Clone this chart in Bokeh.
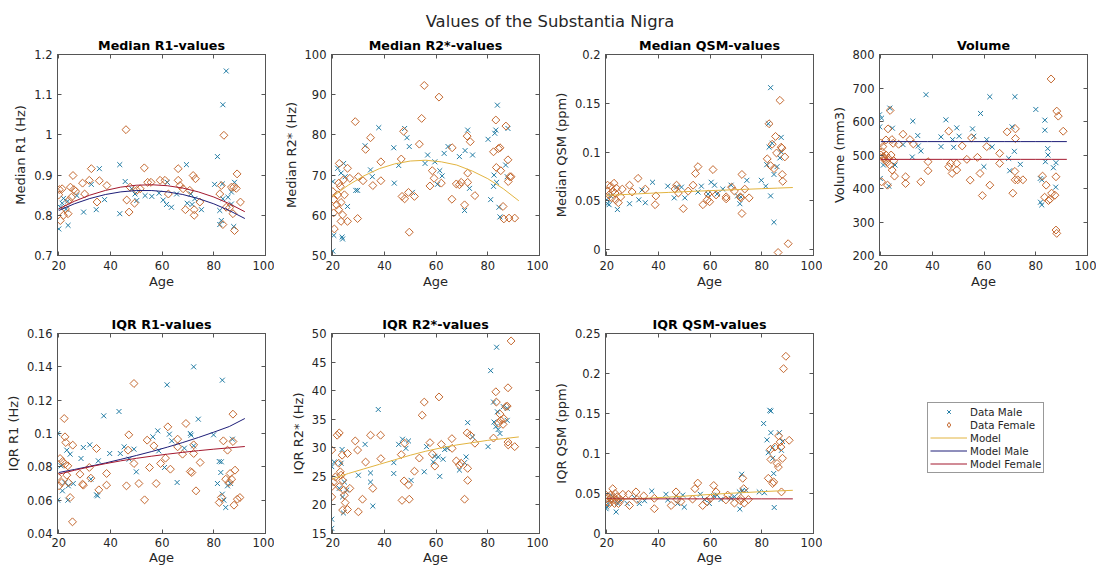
import math
from bokeh.plotting import figure
from bokeh.models import Range1d, FixedTicker, LinearAxis, Legend, LegendItem
from bokeh.layouts import column, row
from bokeh.embed import file_html
from bokeh.resources import INLINE
from bokeh.core.properties import value

# ---------------- data ----------------
suptitle = "Values of the Substantia Nigra"
x_ticks = [20, 40, 60, 80, 100]
x_tick_labels = ["20", "40", "60", "80", "100"]

# Median R1
r1_med_m_age = [20.0,23.6,20.6,21.3,22.8,23.4,21.8,27.0,29.6,32.6,34.5,35.7,37.7,43.6,43.6,45.7,48.2,49.5,50.2,53.4,56.0,58.8,60.4,61.7,62.0,63.6,65.6,69.4,69.7,71.1,71.6,72.6,75.2,80.3,81.4,82.3,82.9,83.3,83.5,84.8,82.3,85.5,86.8,87.7,88.0,83.5,86.8]
r1_med_m = [0.766,0.775,0.820,0.830,0.815,0.835,0.842,0.849,0.808,0.877,0.814,0.916,0.839,0.926,0.804,0.884,0.866,0.853,0.837,0.849,0.847,0.855,0.838,0.827,0.882,0.820,0.853,0.926,0.830,0.853,0.827,0.841,0.814,0.877,0.946,0.777,0.787,0.878,1.075,1.159,0.812,0.845,0.858,0.772,0.882,0.841,0.828]
r1_med_f_age = [20.0,20.2,21.3,20.6,21.8,22.6,23.6,23.9,24.5,24.9,25.5,25.8,26.5,29.2,30.0,32.6,31.8,34.8,35.7,38.6,46.0,46.3,47.2,47.6,49.3,50.2,51.5,53.1,54.4,55.7,59.2,61.1,62.4,66.2,66.2,66.9,68.1,69.0,70.7,72.0,72.9,72.4,72.4,74.6,82.3,82.9,83.5,83.9,84.8,86.1,86.8,87.7,88.0,88.7,89.0,90.3,87.4]
r1_med_f = [0.851,0.864,0.866,0.787,0.800,0.816,0.804,0.837,0.870,0.845,0.899,0.864,0.860,0.880,0.853,0.916,0.887,0.833,0.886,0.874,1.013,0.838,0.808,0.870,0.830,0.862,0.866,0.918,0.882,0.882,0.887,0.887,0.853,0.916,0.887,0.874,0.866,0.814,0.862,0.899,0.891,0.814,0.800,0.833,0.853,0.874,0.777,0.999,0.820,0.819,0.870,0.870,0.762,0.867,0.903,0.833,0.804]

# Median R2*
r2_med_m_age = [20.0,20.0,20.4,21.9,23.2,23.6,23.8,24.2,24.8,25.7,28.9,29.6,32.5,34.6,35.3,37.8,43.6,43.8,45.5,47.8,48.7,49.6,50.8,55.7,56.7,59.5,60.5,61.4,62.3,63.1,64.6,69.0,71.0,71.2,72.2,72.9,74.1,80.1,81.1,82.2,82.4,82.7,83.1,83.4,83.7,84.3,84.7,86.9,87.8,87.5]
r2_med_m = [51.1,68.4,55.0,71.7,70.5,54.6,54.1,72.9,69.6,62.2,66.2,66.2,77.3,71.3,69.6,81.8,76.8,68.0,72.4,81.6,79.3,77.1,65.7,72.9,75.0,73.3,67.7,71.1,69.8,75.4,77.1,74.6,61.2,76.1,81.2,66.7,75.0,78.9,63.9,67.2,70.0,80.4,81.2,68.2,87.4,62.0,59.6,72.5,81.6,69.6]
r2_med_f_age = [20.0,20.3,20.3,20.6,21.9,21.5,22.3,22.5,22.3,22.9,23.2,23.2,23.8,24.1,24.5,25.7,25.7,26.6,28.7,29.6,29.9,31.7,32.7,34.6,35.5,38.6,38.6,46.5,46.8,47.8,47.4,49.3,49.6,51.6,53.5,54.4,55.4,57.6,58.5,59.2,61.1,62.0,66.1,66.2,67.8,69.0,69.7,71.0,72.0,72.2,72.2,73.2,75.0,82.2,83.1,83.3,84.1,84.7,85.0,85.9,86.2,87.0,87.8,87.9,88.2,88.5,89.0,90.4]
r2_med_f = [65.9,63.9,60.6,56.6,65.1,62.6,68.0,72.9,61.4,67.2,63.2,58.5,60.1,68.8,65.1,71.7,58.5,69.2,83.3,59.2,69.6,68.6,76.4,79.3,67.4,73.3,68.6,74.0,64.7,64.1,80.9,65.7,55.8,64.7,77.7,84.1,92.3,67.3,71.1,69.2,89.4,68.0,64.0,76.8,67.8,67.6,68.2,62.6,79.7,70.5,68.2,78.3,64.9,75.8,83.7,71.9,76.6,76.8,71.1,62.2,59.1,82.2,73.8,68.4,59.3,69.6,69.6,59.3]

# Median QSM
qsm_med_m_age = [20.0,20.3,20.9,21.5,24.1,28.8,32.4,33.6,34.9,37.7,43.6,46.1,47.0,48.9,50.2,55.3,56.6,59.2,60.4,61.7,62.7,64.9,68.1,70.6,71.5,71.9,74.2,79.8,81.5,81.9,82.5,82.8,83.4,83.4,84.0,84.7,84.7,87.5,87.0,85.9,87.5]
qsm_med_m = [0.051,0.047,0.046,0.055,0.041,0.047,0.051,0.061,0.048,0.069,0.065,0.053,0.064,0.064,0.053,0.059,0.065,0.057,0.069,0.066,0.057,0.062,0.066,0.055,0.047,0.054,0.071,0.071,0.065,0.087,0.129,0.105,0.166,0.055,0.109,0.028,0.077,0.115,0.094,0.085,0.100]
qsm_med_f_age = [20.3,20.3,20.9,21.5,21.9,22.4,22.8,23.2,23.4,23.7,24.5,25.4,26.0,28.8,29.8,32.1,34.9,38.7,39.0,46.4,47.0,47.7,49.6,51.5,53.4,54.3,55.3,57.2,58.9,59.2,59.8,61.1,62.3,66.2,66.2,68.3,69.4,71.7,71.9,72.3,72.3,73.4,75.1,82.1,82.8,83.4,84.0,84.7,85.3,85.7,86.3,87.0,87.5,87.8,87.9,88.1,88.9,90.2]
qsm_med_f = [0.066,0.060,0.056,0.065,0.053,0.060,0.068,0.058,0.051,0.063,0.048,0.054,0.062,0.066,0.059,0.073,0.062,0.046,0.055,0.062,0.066,0.058,0.042,0.060,0.066,0.078,0.085,0.046,0.051,0.057,0.049,0.082,0.056,0.054,0.052,0.064,0.060,0.054,0.053,0.077,0.037,0.062,0.053,0.093,0.129,0.086,0.108,0.083,0.116,0.099,-0.003,0.153,0.105,0.104,0.077,0.070,0.095,0.006]

# Volume
vol_m_age = [19.5,20.3,19.6,19.8,21.0,23.5,24.5,23.1,25.5,28.6,32.4,32.2,34.3,34.5,35.5,37.5,43.3,43.3,45.2,47.8,48.2,49.4,50.3,55.5,56.0,58.6,59.9,61.0,62.2,63.1,69.5,69.9,70.8,71.7,71.9,74.0,80.0,81.7,82.3,81.8,82.3,83.5,83.5,83.7,84.6,84.7,86.8,87.8,87.7]
vol_m = [620,610,584,430,470,640,580,407,470,531,601,494,558,527,512,680,554,525,605,546,523,581,556,578,556,624,465,546,674,524,490,453,584,511,674,472,636,430,426,359,351,604,574,480,519,500,462,477,404]
vol_f_age = [19.9,20.5,21.0,20.3,21.5,22.0,22.5,22.8,23.6,22.6,23.5,24.3,24.4,25.3,25.0,20.0,20.8,21.3,22.0,23.0,24.0,24.8,26.9,28.6,29.6,29.6,31.3,32.6,35.5,38.3,38.3,46.3,46.3,47.6,47.0,49.4,49.4,51.5,53.3,54.6,55.1,57.4,58.4,59.3,61.0,62.2,66.0,66.0,68.9,71.1,72.1,72.1,71.9,72.0,73.0,75.0,82.6,83.4,84.0,84.9,85.5,85.9,86.1,87.4,87.8,88.1,88.7,87.8,88.1,90.6]
vol_f = [536,510,495,420,485,500,478,578,633,410,470,546,455,437,483,500,525,490,545,490,500,535,532,562,435,415,546,533,420,480,453,571,465,445,475,475,455,527,487,425,551,493,445,379,525,410,505,475,569,386,578,549,451,426,426,426,437,374,410,364,368,727,386,380,435,631,616,276,266,571]

# IQR R1
r1_iqr_m_age = [19.6,19.6,20.9,21.4,22.4,23.1,23.7,23.5,24.4,25.6,28.6,29.5,32.0,32.4,34.6,35.0,35.3,37.4,39.7,43.3,43.8,45.3,47.2,49.1,50.0,56.4,58.3,58.7,60.9,61.9,62.8,63.7,65.8,68.6,70.9,71.2,72.2,72.2,74.0,79.9,81.4,82.1,82.9,83.3,82.7,83.3,83.9,84.6,85.3,86.5,87.2]
r1_iqr_m = [0.060,0.100,0.0806,0.0656,0.0706,0.090,0.0686,0.060,0.0876,0.070,0.085,0.0916,0.0932,0.0726,0.0632,0.0626,0.0836,0.1106,0.088,0.1132,0.088,0.092,0.0846,0.0906,0.077,0.098,0.1016,0.0896,0.0796,0.1292,0.0996,0.0956,0.0706,0.0912,0.100,0.099,0.140,0.0926,0.1086,0.0992,0.070,0.0832,0.083,0.132,0.0766,0.0636,0.060,0.0556,0.0686,0.070,0.0966]
r1_iqr_f_age = [19.6,20.1,20.5,21.2,21.5,22.1,22.4,22.4,22.7,23.1,23.5,23.7,24.4,25.3,25.4,28.2,29.2,29.5,31.8,32.4,34.6,35.5,38.5,38.5,46.2,47.1,46.8,49.1,49.1,51.0,53.2,54.2,55.1,56.8,57.7,59.4,61.3,62.2,63.2,66.0,66.0,67.9,69.2,70.9,71.5,72.2,72.2,73.1,74.7,82.1,82.9,83.7,84.6,85.3,85.9,86.3,86.9,87.4,87.8,88.2,89.1,90.1,87.4]
r1_iqr_f = [0.074,0.0686,0.085,0.0706,0.0832,0.109,0.098,0.0816,0.0946,0.075,0.0806,0.0706,0.0616,0.047,0.093,0.0756,0.0696,0.069,0.0796,0.0732,0.091,0.0662,0.076,0.069,0.0686,0.0992,0.090,0.130,0.082,0.070,0.0602,0.096,0.0796,0.0926,0.070,0.082,0.0852,0.104,0.0786,0.0966,0.092,0.0876,0.106,0.0772,0.0766,0.0932,0.088,0.0656,0.0826,0.0586,0.0616,0.0956,0.0726,0.090,0.0706,0.076,0.0726,0.1116,0.057,0.078,0.0606,0.0616,0.0952]

# IQR R2*
r2_iqr_m_age = [19.6,19.6,19.6,20.6,22.5,23.2,23.6,23.8,24.1,24.5,25.4,29.9,32.5,34.6,34.6,35.5,37.6,43.6,43.6,45.5,47.0,48.3,49.3,50.3,55.4,56.3,58.9,59.5,60.8,61.4,62.7,63.3,64.3,69.0,71.0,71.6,72.2,74.1,80.1,81.1,82.2,82.4,83.1,83.4,83.7,84.0,84.7,86.0,87.5,87.5]
r2_iqr_m = [15.9,17.5,26.7,27.5,22.9,27.3,29.7,21.4,18.6,24.0,22.6,25.2,30.6,25.6,24.0,19.8,36.7,27.4,25.5,30.6,31.5,29.9,31.2,24.3,25.8,30.2,27.5,28.5,28.4,25.0,28.0,29.7,29.9,26.1,27.4,28.4,34.4,31.9,30.2,43.5,38.0,34.5,33.7,47.6,36.3,33.2,32.5,37.2,34.8,36.9]
r2_iqr_f_age = [19.6,19.6,19.6,20.3,21.0,21.7,22.3,22.5,22.5,22.9,23.2,23.6,23.8,23.8,24.2,24.5,24.8,25.7,25.7,26.6,28.7,29.6,29.9,31.5,32.7,34.6,35.5,38.5,38.6,46.5,46.8,47.6,47.8,49.3,49.6,51.6,53.5,54.6,55.4,57.6,58.5,59.5,61.1,62.0,66.1,66.2,67.8,69.0,69.7,71.0,72.0,72.2,72.2,73.2,75.0,82.2,83.1,83.3,84.1,84.7,85.0,85.9,86.2,87.0,87.5,87.8,87.8,87.9,89.0,90.4]
r2_iqr_f = [29.6,23.2,21.4,24.0,24.9,32.2,27.3,32.6,23.2,25.8,25.2,28.7,24.3,19.1,22.6,21.7,20.4,29.0,19.2,22.9,31.2,29.6,18.8,21.0,27.5,32.2,22.9,32.2,28.1,28.8,20.8,24.2,30.8,23.5,21.0,25.9,28.2,35.7,38.0,30.9,28.9,26.8,38.9,30.6,31.6,29.9,27.7,27.0,27.3,21.0,32.6,26.4,24.3,32.2,30.8,31.7,39.8,38.0,34.3,35.9,34.8,34.1,35.1,37.2,37.3,40.5,31.0,30.5,48.7,30.2]

# IQR QSM
qsm_iqr_m_age = [19.7,20.0,20.4,21.0,22.3,23.6,24.3,25.5,27.9,30.7,32.6,34.6,37.4,42.9,43.6,46.8,47.4,49.4,50.0,56.2,57.8,59.7,61.4,62.7,64.2,68.1,69.4,71.3,71.5,72.2,72.6,73.9,79.0,80.7,81.0,82.0,82.5,83.1,83.5,83.5,84.2,84.2,84.6,84.8,86.8,87.6,88.0]
qsm_iqr_m = [0.031,0.033,0.0375,0.0425,0.046,0.027,0.0375,0.042,0.0375,0.045,0.0375,0.041,0.053,0.049,0.042,0.047,0.0375,0.048,0.033,0.049,0.0425,0.0375,0.047,0.048,0.0425,0.044,0.046,0.052,0.0305,0.074,0.054,0.054,0.052,0.1375,0.051,0.117,0.101,0.154,0.153,0.126,0.1075,0.094,0.075,0.0325,0.126,0.104,0.115]
qsm_iqr_f_age = [19.7,20.0,20.4,21.0,21.4,21.9,22.3,22.6,23.0,23.2,23.6,24.0,24.5,25.3,26.2,28.4,28.8,31.3,31.7,34.3,38.4,38.4,44.9,46.8,47.2,48.7,53.2,54.1,55.2,57.1,58.8,60.1,61.4,62.3,66.1,66.8,69.4,71.7,71.9,72.6,73.0,73.2,74.8,82.5,83.3,83.5,84.2,84.6,85.1,85.9,86.4,86.5,87.1,87.4,87.6,88.0,88.4,89.3,90.6]
qsm_iqr_f = [0.048,0.0395,0.044,0.0375,0.048,0.042,0.056,0.046,0.0375,0.050,0.042,0.046,0.0375,0.042,0.049,0.049,0.035,0.052,0.0425,0.047,0.031,0.044,0.035,0.052,0.0425,0.040,0.043,0.056,0.063,0.035,0.040,0.044,0.060,0.052,0.042,0.048,0.038,0.041,0.044,0.069,0.056,0.038,0.0425,0.069,0.105,0.0925,0.0625,0.0645,0.108,0.0875,0.083,0.122,0.1145,0.108,0.052,0.094,0.206,0.2215,0.1165]

# fitted model curves, read at these ages
model_age = [20, 26, 32, 38, 44, 50, 56, 62, 68, 74, 80, 86, 92]
r1_med_model_male = [0.812,0.8285,0.8417,0.8517,0.8583,0.8616,0.8616,0.8583,0.8517,0.8417,0.8285,0.8119,0.792]
r1_med_model_female = [0.816,0.8348,0.8501,0.8618,0.8701,0.8748,0.876,0.8736,0.8677,0.8583,0.8454,0.8289,0.8089]
r2_med_model = [64.7,67.5,69.8,71.6,72.8,73.5,73.7,73.3,72.5,71.0,69.1,66.6,63.6]
qsm_med_model = [0.0555,0.0563,0.0571,0.0579,0.0586,0.0593,0.0600,0.0606,0.0612,0.0618,0.0624,0.0630,0.0636]
vol_model_male = [540]*13
vol_model_female = [487]*13
r1_iqr_model_male = [0.0766,0.0784,0.0803,0.0823,0.0845,0.0868,0.0892,0.0918,0.0946,0.0976,0.1008,0.1042,0.109]
r1_iqr_model_female = [0.0756,0.0779,0.0800,0.0819,0.0836,0.0851,0.0864,0.0876,0.0887,0.0897,0.0906,0.0914,0.0922]
r2_iqr_model = [24.6,25.5,26.3,27.1,27.9,28.7,29.4,30.0,30.5,30.9,31.3,31.6,31.9]
qsm_iqr_model = [0.0425,0.0430,0.0437,0.0445,0.0455,0.0467,0.0480,0.0492,0.0503,0.0513,0.0523,0.0532,0.0540]
qsm_iqr_model_female = [0.0433]*13

# ---------------- style ----------------
FONT = "DejaVu Sans"
C_MALE = "#217ca4"
C_FEM = "#c4682f"
C_MODEL = "#e2b440"
C_MMALE = "#1e1e78"
C_MFEM = "#a3182e"
TXT = "#262626"
AXC = "#555555"
PW = 274


def style_axis(ax, ticks, labels, show, std=(5, 1)):
    ax.ticker = FixedTicker(ticks=ticks)
    ax.major_tick_in = 4
    ax.major_tick_out = 0
    ax.minor_tick_line_color = None
    ax.axis_line_color = AXC
    ax.major_tick_line_color = AXC
    ax.major_label_text_font = FONT
    ax.major_label_text_font_size = "11.5px"
    ax.major_label_text_color = TXT
    ax.axis_label_text_font = FONT
    ax.axis_label_text_font_size = "13px"
    ax.axis_label_text_font_style = "normal"
    ax.axis_label_text_color = TXT
    if show:
        ax.major_label_overrides = {t: l for t, l in zip(ticks, labels)}
        ax.axis_label_standoff = std[1]
    else:
        ax.major_label_overrides = {t: "" for t in ticks}
    ax.major_label_standoff = std[0]


def make_panel(title, ylabel, yr, yt, ytl, ma, mv, fa, fv, lines, top, fh, bottom, xstd):
    p = figure(width=PW, height=top + fh + bottom, x_range=Range1d(19.5, 100), y_range=Range1d(*yr),
               output_backend="svg", toolbar_location=None,
               min_border_left=57, min_border_right=9, min_border_top=top, min_border_bottom=bottom,
               background_fill_color="white", border_fill_color="white",
               outline_line_color=AXC)
    p.grid.visible = False
    p.title.text = title
    p.title.align = "center"
    p.title.text_font = FONT
    p.title.text_font_size = "12.7px"
    p.title.text_font_style = "bold"
    p.title.text_color = "#000000"
    p.title.standoff = 4
    xa = p.xaxis[0]
    ya = p.yaxis[0]
    style_axis(xa, x_ticks, x_tick_labels, True, xstd)
    xa.axis_label = "Age"
    style_axis(ya, yt, ytl, True, (5, 3))
    ya.axis_label = ylabel
    top_ax = LinearAxis()
    style_axis(top_ax, x_ticks, x_tick_labels, False, (2, 0))
    p.add_layout(top_ax, "above")
    right_ax = LinearAxis()
    style_axis(right_ax, yt, ytl, False, (0, 0))
    p.add_layout(right_ax, "right")
    p.scatter(ma, mv, marker="x", size=7, line_color=C_MALE, line_width=1)
    p.scatter(fa, fv, marker="square", angle=math.pi / 4, size=5.6, line_color=C_FEM,
              fill_color=None, line_width=1)
    for ys, col in lines:
        p.line(model_age, ys, line_color=col, line_width=1)
    return p


T1, FH1, B1 = 24, 201, 36
T2, FH2, B2 = 42, 200, 34
XS1 = (5, 1)
XS2 = (4, 0)

p1 = make_panel("Median R1-values", "Median R1 (Hz)", (0.7, 1.2),
                [0.7, 0.8, 0.9, 1.0, 1.1, 1.2], ["0.7", "0.8", "0.9", "1", "1.1", "1.2"],
                r1_med_m_age, r1_med_m, r1_med_f_age, r1_med_f,
                [(r1_med_model_male, C_MMALE), (r1_med_model_female, C_MFEM)], T1, FH1, B1, XS1)
p2 = make_panel("Median R2*-values", "Median R2* (Hz)", (50, 100),
                [50, 60, 70, 80, 90, 100], ["50", "60", "70", "80", "90", "100"],
                r2_med_m_age, r2_med_m, r2_med_f_age, r2_med_f,
                [(r2_med_model, C_MODEL)], T1, FH1, B1, XS1)
p3 = make_panel("Median QSM-values", "Median QSM (ppm)", (-0.0061, 0.2),
                [0, 0.05, 0.1, 0.15, 0.2], ["0", "0.05", "0.1", "0.15", "0.2"],
                qsm_med_m_age, qsm_med_m, qsm_med_f_age, qsm_med_f,
                [(qsm_med_model, C_MODEL)], T1, FH1, B1, XS1)
p4 = make_panel("Volume", "Volume (mm3)", (200, 800),
                [200, 300, 400, 500, 600, 700, 800], ["200", "300", "400", "500", "600", "700", "800"],
                vol_m_age, vol_m, vol_f_age, vol_f,
                [(vol_model_male, C_MMALE), (vol_model_female, C_MFEM)], T1, FH1, B1, XS1)
p5 = make_panel("IQR R1-values", "IQR R1 (Hz)", (0.04, 0.16),
                [0.04, 0.06, 0.08, 0.1, 0.12, 0.14, 0.16], ["0.04", "0.06", "0.08", "0.1", "0.12", "0.14", "0.16"],
                r1_iqr_m_age, r1_iqr_m, r1_iqr_f_age, r1_iqr_f,
                [(r1_iqr_model_male, C_MMALE), (r1_iqr_model_female, C_MFEM)], T2, FH2, B2, XS2)
p6 = make_panel("IQR R2*-values", "IQR R2* (Hz)", (15, 50),
                [15, 20, 25, 30, 35, 40, 45, 50], ["15", "20", "25", "30", "35", "40", "45", "50"],
                r2_iqr_m_age, r2_iqr_m, r2_iqr_f_age, r2_iqr_f,
                [(r2_iqr_model, C_MODEL)], T2, FH2, B2, XS2)
p7 = make_panel("IQR QSM-values", "IQR QSM (ppm)", (0, 0.25),
                [0, 0.05, 0.1, 0.15, 0.2, 0.25], ["0", "0.05", "0.1", "0.15", "0.2", "0.25"],
                qsm_iqr_m_age, qsm_iqr_m, qsm_iqr_f_age, qsm_iqr_f,
                [(qsm_iqr_model, C_MODEL), (qsm_iqr_model_female, C_MFEM)], T2, FH2, B2, XS2)

# header with the overall title
head = figure(width=1099, height=30, x_range=Range1d(0, 1), y_range=Range1d(0, 1),
              x_axis_location=None, y_axis_location=None, output_backend="svg",
              toolbar_location=None, min_border=0, outline_line_color=None)
head.grid.visible = False
head.text(x=[0.5], y=[0.3], text=[suptitle], text_align="center", text_baseline="middle",
          text_font=value(FONT), text_font_size="16.4px", text_color=TXT)

# legend panel (its renderers use the IQR QSM data, which lies outside this panel's ranges)
lg = figure(width=276, height=T2 + FH2 + B2, x_range=Range1d(0, 1), y_range=Range1d(0, 1),
            x_axis_location=None, y_axis_location=None, output_backend="svg",
            toolbar_location=None, min_border=0, outline_line_color=None)
lg.grid.visible = False
r_m = lg.scatter(qsm_iqr_m_age, qsm_iqr_m, marker="x", size=7, line_color=C_MALE, line_width=1)
r_f = lg.scatter(qsm_iqr_f_age, qsm_iqr_f, marker="diamond", size=8,
                 line_color=C_FEM, fill_color=None, line_width=1)
r_mod = lg.line(model_age, qsm_iqr_model, line_color=C_MODEL, line_width=1)
r_mm = lg.line(model_age, r1_iqr_model_male, line_color=C_MMALE, line_width=1)
r_mf = lg.line(model_age, qsm_iqr_model_female, line_color=C_MFEM, line_width=1)
legend = Legend(items=[LegendItem(label="Data Male", renderers=[r_m]),
                       LegendItem(label="Data Female", renderers=[r_f]),
                       LegendItem(label="Model", renderers=[r_mod]),
                       LegendItem(label="Model Male", renderers=[r_mm]),
                       LegendItem(label="Model Female", renderers=[r_mf])],
                location=(105, 60))
legend.label_text_font = FONT
legend.label_text_font_size = "10.3px"
legend.label_text_color = TXT
legend.glyph_width = 37
legend.glyph_height = 13
legend.label_height = 13
legend.label_standoff = 3
legend.spacing = 0
legend.padding = 2
legend.margin = 0
legend.border_line_color = "#333333"
legend.border_line_width = 1
legend.background_fill_color = "white"
lg.add_layout(legend)

layout = column(head, row(p1, p2, p3, p4), row(p5, p6, p7, lg))

with open("out.html", "w") as f:
    f.write(file_html(layout, INLINE))
